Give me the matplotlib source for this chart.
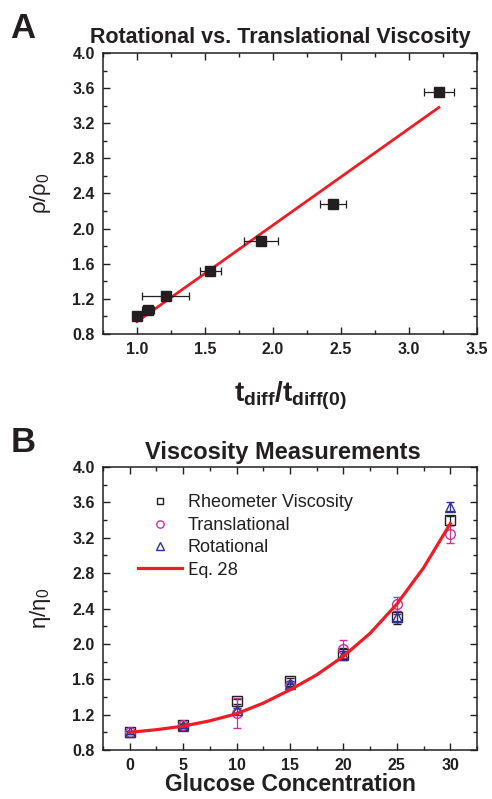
import numpy as np
import matplotlib.pyplot as plt
from matplotlib.ticker import MultipleLocator

plt.rcParams['font.family'] = ['Liberation Sans', 'DejaVu Sans']
plt.rcParams['mathtext.fontset'] = 'custom'
plt.rcParams['mathtext.rm'] = 'Liberation Sans'
plt.rcParams['mathtext.bf'] = 'Liberation Sans:bold'
plt.rcParams['mathtext.it'] = 'Liberation Sans:italic'

# panel A data
t_ratio = [1.00, 1.08, 1.21, 1.54, 1.91, 2.44, 3.22]
t_err = [0.0, 0.045, 0.17, 0.075, 0.125, 0.095, 0.11]
rho_ratio = [1.00, 1.07, 1.23, 1.52, 1.86, 2.28, 3.55]
rho_err = [0.02, 0.02, 0.03, 0.03, 0.04, 0.04, 0.04]
fit_x = [1.00, 3.22]
fit_y = [0.94, 3.38]

# panel B data
glucose = [0, 5, 10, 15, 20, 25, 30]
rheo = [1.00, 1.08, 1.35, 1.58, 1.89, 2.30, 3.40]
rheo_err = [0.02, 0.02, 0.03, 0.03, 0.06, 0.07, 0.05]
trans = [1.00, 1.08, 1.22, 1.53, 1.94, 2.45, 3.24]
trans_err = [0.02, 0.02, 0.17, 0.03, 0.10, 0.08, 0.10]
rot = [1.00, 1.07, 1.25, 1.545, 1.87, 2.30, 3.55]
rot_err = [0.02, 0.02, 0.03, 0.03, 0.05, 0.04, 0.05]
eq_x = [0, 2.5, 5, 7.5, 10, 12.5, 15, 17.5, 20, 22.5, 25, 27.5, 30]
eq_y = [1.00, 1.03, 1.07, 1.13, 1.21, 1.33, 1.48, 1.65, 1.86, 2.12, 2.45, 2.86, 3.36]

ink = '#231f20'
red = '#ee1c24'
magenta = '#c8329b'
navy = '#2e3192'

fig = plt.figure(figsize=(4.92, 7.99), dpi=100)
axA = fig.add_axes([0.2093, 0.582, 0.7602, 0.3517])
axB = fig.add_axes([0.2093, 0.0613, 0.7602, 0.3542])


def style(ax):
    for s in ax.spines.values():
        s.set_linewidth(1.1)
        s.set_color(ink)
    ax.tick_params(which='both', direction='in', top=True, right=True,
                   width=1.0, colors=ink, labelsize=11.5, pad=6)
    ax.tick_params(which='major', length=5)
    ax.tick_params(which='minor', length=3)
    for lab in ax.get_xticklabels() + ax.get_yticklabels():
        lab.set_fontweight('bold')


# panel A
axA.errorbar(t_ratio, rho_ratio, xerr=t_err, yerr=rho_err, fmt='s', color=ink,
             ms=7.5, elinewidth=0.9, capsize=3, capthick=0.9, zorder=3)
axA.plot(fit_x, fit_y, color=red, lw=2.0, zorder=2)
axA.set_xlim(0.75, 3.5)
axA.set_ylim(0.8, 4.0)
axA.xaxis.set_major_locator(MultipleLocator(0.5))
axA.xaxis.set_minor_locator(MultipleLocator(0.25))
axA.yaxis.set_major_locator(MultipleLocator(0.4))
axA.yaxis.set_minor_locator(MultipleLocator(0.2))
axA.xaxis.set_major_formatter('{x:.1f}')
axA.yaxis.set_major_formatter('{x:.1f}')
style(axA)
axA.set_title('Rotational vs. Translational Viscosity', fontsize=15.5,
              fontweight='bold', color=ink, pad=7, x=0.475)
axA.set_xlabel(r'$\mathbf{t_{diff}/t_{diff(0)}}$', fontsize=20, color=ink, labelpad=16)
axA.set_ylabel('ρ/ρ$_0$', fontsize=16, color=ink, labelpad=14)

# panel B
rheo_pts = axB.errorbar(glucose, rheo, yerr=rheo_err, fmt='s', color=ink, mfc='none',
                        ms=6.5, mew=1.0, elinewidth=0.9, capsize=3, capthick=0.9,
                        zorder=3)
trans_pts = axB.errorbar(glucose, trans, yerr=trans_err, fmt='o', color=magenta,
                         mfc='none', ms=7, mew=1.0, elinewidth=0.9, capsize=3,
                         capthick=0.9, zorder=3)
rot_pts = axB.errorbar(glucose, rot, yerr=rot_err, fmt='^', color=navy, mfc='none',
                       ms=7, mew=1.0, elinewidth=0.9, capsize=3, capthick=0.9,
                       zorder=4)
eq_line, = axB.plot(eq_x, eq_y, color=red, lw=2.3, zorder=5)
axB.set_xlim(-2.5, 32.5)
axB.set_ylim(0.8, 4.0)
axB.xaxis.set_major_locator(MultipleLocator(5))
axB.xaxis.set_minor_locator(MultipleLocator(2.5))
axB.yaxis.set_major_locator(MultipleLocator(0.4))
axB.yaxis.set_minor_locator(MultipleLocator(0.2))
axB.yaxis.set_major_formatter('{x:.1f}')
style(axB)
axB.set_title('Viscosity Measurements', fontsize=17, fontweight='bold',
              color=ink, pad=6, x=0.48)
axB.set_xlabel('Glucose Concentration', fontsize=16.5, fontweight='bold',
               color=ink, labelpad=0)
axB.set_ylabel('η/η$_0$', fontsize=16, color=ink, labelpad=14)

# legend shows the bare markers only
leg = axB.legend([rheo_pts[0], trans_pts[0], rot_pts[0], eq_line],
                 ['Rheometer Viscosity', 'Translational', 'Rotational', 'Eq. 28'],
                 loc='upper left', bbox_to_anchor=(0.07, 0.935),
                 frameon=False, fontsize=13, handlelength=2.4, handletextpad=0.35,
                 labelspacing=0.3, borderpad=0, markerscale=0.75)
for txt in leg.get_texts():
    txt.set_color(ink)
leg.get_texts()[3].set_family('Lato')

fig.text(0.02, 0.985, 'A', fontsize=25, fontweight='bold', color=ink,
         ha='left', va='top')
fig.text(0.022, 0.467, 'B', fontsize=25, fontweight='bold', color=ink,
         ha='left', va='top')

fig.savefig('out.png', dpi=100)
